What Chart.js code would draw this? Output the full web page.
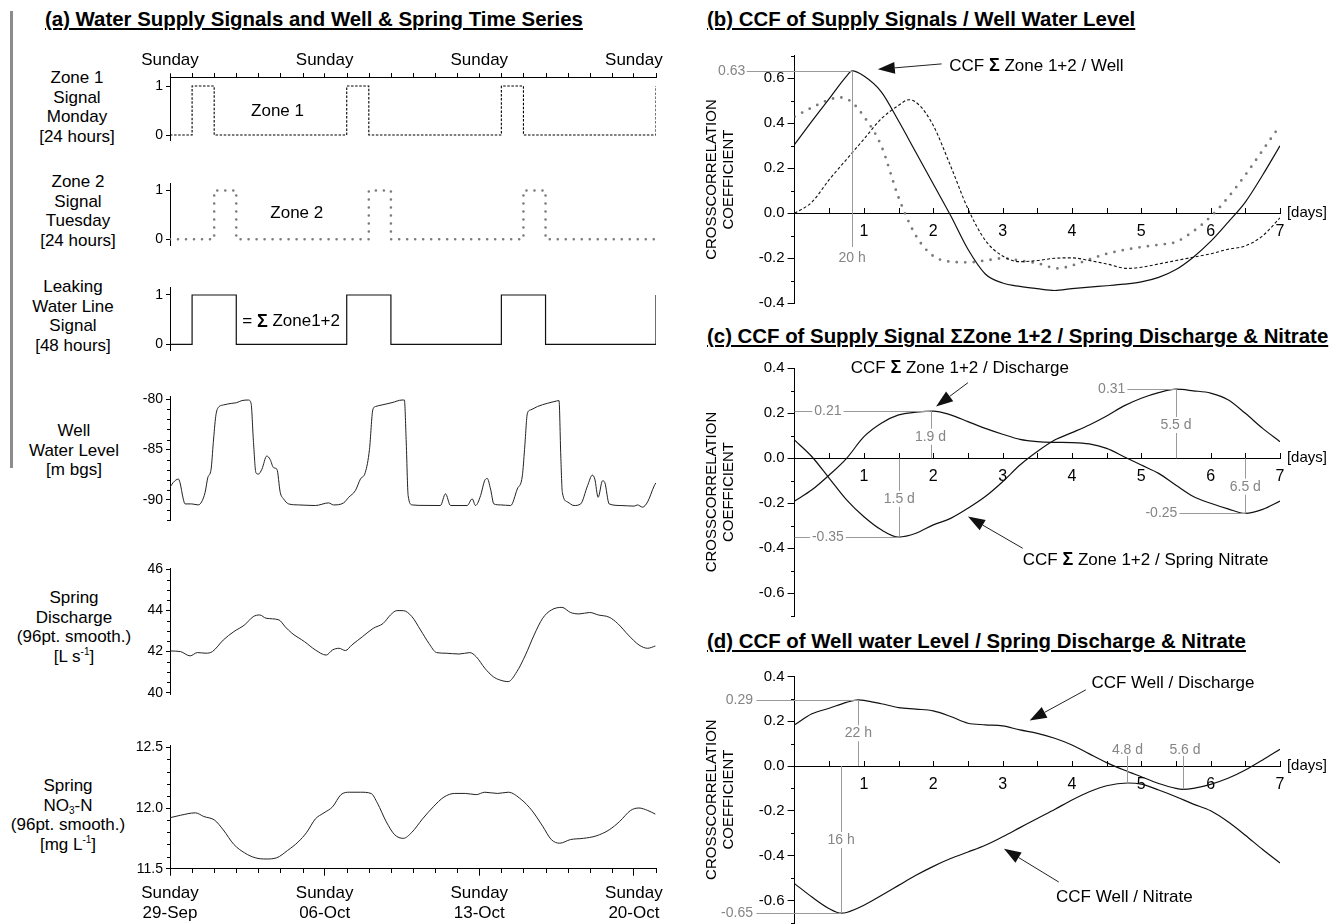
<!DOCTYPE html>
<html><head><meta charset="utf-8"><title>Water supply signals and CCF</title>
<script src="https://cdn.jsdelivr.net/npm/chart.js"></script>
<style>
html,body{margin:0;padding:0;background:#fff;}
body{position:relative;width:1343px;height:924px;overflow:hidden;font-family:'Liberation Sans',Arial,Helvetica,sans-serif;color:#000;}
canvas{position:absolute;}
.title{position:absolute;font-weight:bold;font-size:20.4px;line-height:24px;text-decoration:underline;text-decoration-thickness:1.5px;text-underline-offset:2px;white-space:nowrap;}
.lab{position:absolute;font-size:17px;line-height:19.5px;text-align:center;white-space:nowrap;transform:translate(-50%,-50%);}
.lab sup{font-size:10px;line-height:0;vertical-align:7px;}
.lab sub{font-size:10px;line-height:0;vertical-align:-3px;}
#bracket{position:absolute;left:10px;top:11px;width:2.5px;height:457px;background:#8c8c8c;}
</style></head><body>
<div id="bracket"></div>
<div class="title" style="left:45px;top:7px">(a) Water Supply Signals and Well &amp; Spring Time Series</div>
<div class="title" style="left:707px;top:7px">(b) CCF of Supply Signals / Well Water Level</div>
<div class="title" style="left:707px;top:324px">(c) CCF of Supply Signal &Sigma;Zone 1+2 / Spring Discharge &amp; Nitrate</div>
<div class="title" style="left:707px;top:629px">(d) CCF of Well water Level / Spring Discharge &amp; Nitrate</div>

<div class="lab" style="left:77px;top:107px">Zone 1<br>Signal<br>Monday<br>[24 hours]</div>
<div class="lab" style="left:78px;top:211px">Zone 2<br>Signal<br>Tuesday<br>[24 hours]</div>
<div class="lab" style="left:73px;top:316px">Leaking<br>Water Line<br>Signal<br>[48 hours]</div>
<div class="lab" style="left:74px;top:450px">Well<br>Water Level<br>[m bgs]</div>
<div class="lab" style="left:74px;top:627px">Spring<br>Discharge<br>(96pt. smooth.)<br>[L s<sup>-1</sup>]</div>
<div class="lab" style="left:68px;top:815px">Spring<br>NO<sub>3</sub>-N<br>(96pt. smooth.)<br>[mg L<sup>-1</sup>]</div>

<script>
// ================= DATA =================
// (a) time axis: days since Sunday 29-Sep
const weekTickDays = [0, 7, 14, 21];
const topTickLabels = ['Sunday', 'Sunday', 'Sunday', 'Sunday'];
const bottomTickLabels = [['Sunday', '29-Sep'], ['Sunday', '06-Oct'], ['Sunday', '13-Oct'], ['Sunday', '20-Oct']];

const zone1Days = [0, 1, 2, 8, 9, 15, 16, 22];
const zone1Signal = [0, 1, 0, 1, 0, 1, 0, 1];
const zone2Days = [0, 2, 3, 9, 10, 16, 17, 22];
const zone2Signal = [0, 1, 0, 1, 0, 1, 0, 0];
const leakDays = [0, 1, 3, 8, 10, 15, 17, 22];
const leakSignal = [0, 1, 0, 1, 0, 1, 0, 1];

const wellDays = [0,0.15,0.38,0.45,0.6,0.68,0.98,1.28,1.43,1.59,1.71,1.86,1.96,2.07,2.16,2.42,2.8,3.02,3.25,3.55,3.67,3.78,3.89,4.0,4.16,4.38,4.53,4.69,4.84,4.99,5.14,5.37,5.82,6.58,7.18,7.4,7.86,8.09,8.39,8.62,8.84,9.03,9.18,9.3,9.6,10.05,10.51,10.61,10.69,10.78,10.96,11.5,12.24,12.47,12.7,13.45,13.68,13.83,14.06,14.24,14.36,14.51,14.66,14.97,15.42,15.72,15.95,16.05,16.18,16.33,16.63,17.08,17.38,17.61,17.69,17.76,17.99,18.29,18.59,18.9,19.12,19.23,19.38,19.58,19.68,19.88,20.41,21.01,21.16,21.39,21.62,21.92,22.0];
const wellLevel = [-88.75,-88.26,-87.93,-88.26,-89.9,-90.4,-90.4,-90.5,-90.2,-89.25,-87.8,-86.95,-84.3,-81.7,-80.9,-80.56,-80.4,-80.33,-80.13,-80.07,-80.4,-84.3,-87.3,-87.44,-86.95,-85.64,-85.97,-86.8,-86.95,-89.25,-89.9,-90.4,-90.5,-90.56,-90.3,-90.5,-90.3,-89.74,-89.08,-87.93,-87.28,-84.98,-81.05,-80.72,-80.56,-80.33,-80.07,-80.07,-84.0,-89.57,-90.5,-90.55,-90.56,-89.4,-90.56,-90.56,-89.9,-90.56,-89.57,-88.1,-87.87,-88.92,-90.4,-90.5,-90.56,-88.92,-87.6,-84.98,-81.38,-81.05,-80.72,-80.4,-80.23,-80.13,-85.64,-89.25,-90.2,-90.56,-90.4,-88.6,-87.54,-87.93,-89.74,-88.1,-88.26,-90.4,-90.56,-90.62,-90.5,-90.72,-90.2,-88.6,-88.3];

const dischargeDays = [0,0.47,0.91,1.24,1.63,1.92,2.41,2.89,3.38,3.77,4.06,4.35,4.93,5.22,5.51,6.09,6.58,7.07,7.36,7.65,7.94,8.23,8.72,9.2,9.65,9.98,10.27,10.56,10.95,11.34,11.72,12.07,12.5,13.08,13.57,13.86,14.25,14.63,14.93,15.31,15.7,16.09,16.48,16.87,17.26,17.74,18.13,18.52,19.0,19.39,19.88,20.26,20.75,21.23,21.62,21.97];
const dischargeLs = [42.03,42.0,41.79,41.95,41.92,42.0,42.56,42.97,43.3,43.7,43.78,43.62,43.54,43.2,42.9,42.48,42.08,41.83,42.08,42.16,42.05,42.32,42.73,43.13,43.37,43.78,43.99,43.99,43.7,43.05,42.4,41.95,41.92,41.88,41.95,41.75,41.19,40.78,40.62,40.54,41.02,41.83,42.8,43.62,44.02,44.15,43.9,43.83,43.9,43.78,43.67,43.37,42.8,42.32,42.16,42.27];

const nitrateDays = [0,0.47,1.15,1.53,2.02,2.41,2.89,3.38,3.86,4.35,4.83,5.32,5.8,6.19,6.58,6.97,7.36,7.74,8.13,8.62,9.1,9.39,9.78,10.17,10.56,10.95,11.43,11.92,12.4,12.89,13.37,13.86,14.25,14.83,15.31,15.9,16.38,16.87,17.26,17.64,18.13,18.71,19.29,19.88,20.36,20.85,21.23,21.62,21.97];
const nitrateMgL = [11.92,11.94,11.96,11.93,11.90,11.82,11.70,11.63,11.59,11.58,11.59,11.65,11.72,11.80,11.91,11.96,12.01,12.11,12.13,12.13,12.12,12.04,11.89,11.78,11.75,11.80,11.91,12.01,12.09,12.12,12.12,12.11,12.13,12.12,12.13,12.07,11.98,11.85,11.74,11.71,11.74,11.75,11.77,11.82,11.89,11.98,12.0,11.98,11.95];

const signalTicks = [0, 1];
const wellTicks = [-90, -85, -80];
const dischargeTicks = [40, 42, 44, 46];
const nitrateTicks = [11.5, 12.0, 12.5];

// (b)-(d) lag axis in days
const lagTicks = [1, 2, 3, 4, 5, 6, 7];
const ccfTicksB = [-0.4, -0.2, 0, 0.2, 0.4, 0.6];
const ccfTicksCD = [-0.6, -0.4, -0.2, 0, 0.2, 0.4];
const lagDays = [0,0.25,0.5,0.75,1,1.25,1.5,1.75,2,2.25,2.5,2.75,3,3.25,3.5,3.75,4,4.25,4.5,4.75,5,5.25,5.5,5.75,6,6.25,6.5,6.75,7];

// (b)
const ccfLeakWellLag = [0,0.25,0.5,0.75,0.83,1,1.25,1.5,1.75,2,2.25,2.5,2.75,3,3.25,3.5,3.75,4,4.25,4.5,4.75,5,5.25,5.5,5.75,6,6.25,6.5,6.75,7];
const ccfLeakWell = [0.306,0.41,0.51,0.61,0.633,0.61,0.54,0.41,0.27,0.13,-0.01,-0.16,-0.27,-0.31,-0.325,-0.335,-0.343,-0.335,-0.328,-0.322,-0.315,-0.305,-0.285,-0.25,-0.195,-0.125,-0.04,0.05,0.17,0.30];
const ccfZone1WellLag = [0,0.25,0.5,0.75,1,1.25,1.5,1.65,1.8,2,2.25,2.5,2.75,3,3.25,3.5,3.75,4,4.25,4.5,4.8,5,5.25,5.5,5.75,6,6.25,6.5,6.75,7];
const ccfZone1Well = [0,0.05,0.15,0.24,0.33,0.42,0.48,0.505,0.48,0.39,0.21,0.02,-0.12,-0.19,-0.215,-0.21,-0.2,-0.198,-0.21,-0.225,-0.245,-0.24,-0.225,-0.21,-0.195,-0.18,-0.16,-0.145,-0.1,-0.02];
const ccfZone2WellLag = [0,0.25,0.5,0.65,0.8,1,1.25,1.5,1.75,2,2.25,2.5,2.75,3,3.25,3.5,3.8,4,4.25,4.5,4.75,5,5.25,5.5,5.75,6,6.25,6.5,6.75,7];
const ccfZone2Well = [0.43,0.47,0.505,0.515,0.5,0.43,0.3,0.07,-0.1,-0.19,-0.215,-0.218,-0.21,-0.2,-0.21,-0.222,-0.245,-0.232,-0.205,-0.18,-0.163,-0.15,-0.14,-0.127,-0.08,-0.015,0.07,0.17,0.28,0.39];

// (c)
const ccfLeakDischarge = [-0.19,-0.14,-0.074,0.0,0.096,0.156,0.193,0.205,0.21,0.193,0.163,0.133,0.107,0.084,0.074,0.071,0.07,0.064,0.044,0.007,-0.03,-0.067,-0.12,-0.17,-0.2,-0.225,-0.245,-0.227,-0.19];
const ccfLeakNitrate = [0.081,0.007,-0.089,-0.185,-0.26,-0.318,-0.35,-0.333,-0.296,-0.267,-0.222,-0.17,-0.104,-0.03,0.03,0.081,0.114,0.148,0.188,0.233,0.267,0.292,0.307,0.30,0.29,0.26,0.2,0.133,0.074];

// (d)
const ccfWellDischargeLag = [0,0.25,0.5,0.75,0.92,1,1.25,1.5,1.75,2,2.25,2.5,2.75,3,3.25,3.5,3.75,4,4.25,4.5,4.75,5,5.25,5.5,5.6,5.75,6,6.25,6.5,6.75,7];
const ccfWellDischarge = [0.184,0.233,0.258,0.284,0.295,0.293,0.278,0.261,0.254,0.246,0.221,0.191,0.184,0.179,0.161,0.146,0.124,0.094,0.054,0.015,-0.018,-0.048,-0.078,-0.1,-0.104,-0.1,-0.082,-0.055,-0.018,0.027,0.075];
const ccfWellNitrateLag = [0,0.25,0.5,0.67,0.75,1,1.25,1.5,1.75,2,2.25,2.5,2.75,3,3.25,3.5,3.75,4,4.25,4.5,4.8,5,5.25,5.5,5.75,6,6.25,6.5,6.75,7];
const ccfWellNitrate = [-0.525,-0.585,-0.637,-0.657,-0.654,-0.622,-0.578,-0.533,-0.488,-0.448,-0.413,-0.384,-0.354,-0.316,-0.275,-0.234,-0.194,-0.152,-0.115,-0.088,-0.076,-0.081,-0.107,-0.137,-0.17,-0.2,-0.249,-0.309,-0.373,-0.433];

// ================= HELPERS =================
const F = "'Liberation Sans', Arial, Helvetica, sans-serif";
Chart.defaults.font.family = F;
Chart.defaults.color = '#000';
Chart.defaults.animation = false;
Chart.defaults.events = [];
Chart.defaults.plugins.legend.display = false;
Chart.defaults.plugins.tooltip.enabled = false;
Chart.defaults.elements.point.radius = 0;

const pts = (xs, ys) => xs.map((x, i) => ({x: x, y: ys[i]}));
const near = (arr, v) => arr.some(m => Math.abs(m - v) < 1e-6);

function addCanvas(x, y, w, h) {
  const c = document.createElement('canvas');
  c.width = w; c.height = h;
  c.style.left = x + 'px'; c.style.top = y + 'px';
  c.style.width = w + 'px'; c.style.height = h + 'px';
  document.body.appendChild(c);
  return c;
}

function drawRich(ctx, parts, x, y, size, align) {
  ctx.textBaseline = 'middle'; ctx.textAlign = 'left'; ctx.fillStyle = '#000';
  const fonts = parts.map(p => (p[1] ? 'bold ' + (size + 1) : size) + 'px ' + F);
  let total = 0;
  const ws = parts.map((p, i) => { ctx.font = fonts[i]; const w = ctx.measureText(p[0]).width; total += w; return w; });
  let cx = align === 'center' ? x - total / 2 : x;
  parts.forEach((p, i) => { ctx.font = fonts[i]; ctx.fillText(p[0], cx, y); cx += ws[i]; });
}

function drawArrow(ctx, x1, y1, x2, y2) {
  const hl = 17, hw = 6;
  const a = Math.atan2(y2 - y1, x2 - x1);
  const bx = x2 - hl * Math.cos(a), by = y2 - hl * Math.sin(a);
  ctx.beginPath(); ctx.moveTo(x1, y1); ctx.lineTo(bx, by); ctx.stroke();
  ctx.beginPath(); ctx.moveTo(x2, y2);
  ctx.lineTo(bx + hw * Math.sin(a), by - hw * Math.cos(a));
  ctx.lineTo(bx - hw * Math.sin(a), by + hw * Math.cos(a));
  ctx.closePath(); ctx.fill();
}

function minorPlugin(spec) {
  return { id: 'minorTicks', afterDraw(chart) {
    const ctx = chart.ctx, ca = chart.chartArea;
    ctx.save(); ctx.strokeStyle = '#000'; ctx.lineWidth = 1; ctx.beginPath();
    if (spec.y) {
      const s = chart.scales.y, o = spec.y;
      const k0 = Math.ceil(s.min / o.step - 1e-6), k1 = Math.floor(s.max / o.step + 1e-6);
      const x = Math.round(ca.left);
      for (let k = k0; k <= k1; k++) {
        const v = k * o.step; if (near(o.skip || [], v)) continue;
        const y = Math.round(s.getPixelForValue(v)) + 0.5;
        ctx.moveTo(x - o.len, y); ctx.lineTo(x, y);
      }
    }
    if (spec.x) {
      const s = chart.scales.x, o = spec.x;
      let y0 = o.at === 'top' ? ca.top : o.at === 'bottom' ? ca.bottom : chart.scales.y.getPixelForValue(0);
      y0 = Math.round(y0);
      const k0 = Math.ceil((o.from !== undefined ? o.from : s.min) / o.step - 1e-6), k1 = Math.floor(s.max / o.step + 1e-6);
      for (let k = k0; k <= k1; k++) {
        const v = k * o.step; if (near(o.skip || [], v)) continue;
        const x = Math.round(s.getPixelForValue(v)) + 0.5;
        if (o.dir === 'up') { ctx.moveTo(x, y0); ctx.lineTo(x, y0 - o.len); }
        else { ctx.moveTo(x, y0); ctx.lineTo(x, y0 + o.len); }
      }
    }
    ctx.stroke(); ctx.restore();
  }};
}

function annotPlugin(spec) {
  return { id: 'annot', afterDraw(chart) {
    const ctx = chart.ctx;
    const X = v => chart.scales.x.getPixelForValue(v), Y = v => chart.scales.y.getPixelForValue(v);
    ctx.save();
    ctx.strokeStyle = '#9a9a9a'; ctx.lineWidth = 1;
    (spec.hlines || []).forEach(h => { const y = Math.round(Y(h.y)) + 0.5; ctx.beginPath(); ctx.moveTo(X(h.x0), y); ctx.lineTo(X(h.x1), y); ctx.stroke(); });
    (spec.vlines || []).forEach(v => { const x = Math.round(X(v.x)) + 0.5; ctx.beginPath(); ctx.moveTo(x, Y(v.y0)); ctx.lineTo(x, Y(v.y1)); ctx.stroke(); });
    ctx.font = '14px ' + F; ctx.textBaseline = 'middle'; ctx.textAlign = 'left';
    (spec.labels || []).forEach(l => {
      const w = ctx.measureText(l.t).width, x = X(l.x), y = Y(l.y);
      const x0 = l.a === 'right' ? x - w : (l.a === 'left' ? x : x - w / 2);
      if (l.bg) { ctx.fillStyle = '#fff'; ctx.fillRect(x0 - 2, y - 8, w + 4, 16); }
      ctx.fillStyle = '#858585'; ctx.fillText(l.t, x0, y);
    });
    (spec.texts || []).forEach(t => drawRich(ctx, t.parts, X(t.x), Y(t.y), t.size || 17, t.align));
    ctx.strokeStyle = '#222'; ctx.fillStyle = '#111'; ctx.lineWidth = 1;
    (spec.arrows || []).forEach(a => drawArrow(ctx, X(a.from[0]), Y(a.from[1]), X(a.to[0]), Y(a.to[1])));
    ctx.restore();
  }};
}

function yAxis(min, max, ticks, fmt, width, o) {
  o = o || {};
  return {
    type: 'linear', min: min, max: max, position: 'left',
    afterBuildTicks: s => { s.ticks = ticks.map(v => ({value: v})); },
    afterFit: s => { s.width = width; s.paddingTop = 0; s.paddingBottom = 0; },
    ticks: {autoSkip: false, font: {size: o.fs || 14}, padding: o.pad || 3, color: '#000', callback: v => fmt(v)},
    grid: {display: true, drawOnChartArea: false, drawTicks: true, tickLength: o.tl || 4, color: '#000'},
    border: {display: true, color: '#000', width: 1},
    title: o.title || {display: false}
  };
}

const TOP_AXIS_H = 37.3, BOTTOM_AXIS_H = 55.3;
function leftX(kind) {
  if (!kind) return {type: 'linear', min: 0, max: 22, display: false};
  return {
    type: 'linear', min: 0, max: 22, display: true, position: kind,
    afterBuildTicks: s => { s.ticks = weekTickDays.map(v => ({value: v})); },
    afterFit: s => { s.height = kind === 'top' ? TOP_AXIS_H : BOTTOM_AXIS_H; s.paddingLeft = 0; s.paddingRight = 0; },
    ticks: {autoSkip: false, maxRotation: 0, minRotation: 0, font: {size: 17}, padding: kind === 'top' ? 2.4 : 7.1, color: '#000',
      callback: (v, i) => kind === 'top' ? topTickLabels[i] : bottomTickLabels[i]},
    grid: {display: true, drawOnChartArea: false, drawTicks: true, tickLength: kind === 'top' ? 4 : 7, color: '#000'},
    border: {display: true, color: '#000', width: 1}
  };
}

// Left column panel
function leftPanel(o) {
  const xH = o.xAxis === 'top' ? TOP_AXIS_H : (o.xAxis === 'bottom' ? BOTTOM_AXIS_H : 0);
  const topEdge = o.xAxis === 'top' ? o.axisTop - xH : o.axisTop - 10;
  const botEdge = o.xAxis === 'bottom' ? o.axisBottom + xH : o.axisBottom + 10;
  const cTop = Math.floor(topEdge), cH = Math.ceil(botEdge) - cTop;
  const padTop = (o.xAxis === 'top' ? o.axisTop - xH : o.axisTop) - cTop;
  const padBottom = cTop + cH - (o.xAxis === 'bottom' ? o.axisBottom + xH : o.axisBottom);
  const canvas = addCanvas(95, cTop, 585, cH);
  const plugins = [];
  if (o.minor) plugins.push(minorPlugin(o.minor));
  if (o.annot) plugins.push(annotPlugin(o.annot));
  return new Chart(canvas, {
    type: 'line',
    data: {datasets: o.datasets},
    options: {
      responsive: false, devicePixelRatio: 1,
      layout: {padding: {top: padTop, bottom: padBottom, left: 0, right: 24}},
      scales: {x: leftX(o.xAxis), y: yAxis(o.min, o.max, o.ticks, o.fmt, 75)}
    },
    plugins: plugins
  });
}

// Right column panel
function rightPanel(o) {
  const topEdge = o.axisTop - 10, botEdge = o.axisBottom + 10;
  const cTop = Math.floor(topEdge), cH = Math.ceil(botEdge) - cTop;
  const canvas = addCanvas(695, cTop, 648, cH);
  return new Chart(canvas, {
    type: 'line',
    data: {datasets: o.datasets},
    options: {
      responsive: false, devicePixelRatio: 1,
      layout: {padding: {top: o.axisTop - cTop, bottom: cTop + cH - o.axisBottom, left: 0, right: 63}},
      scales: {
        x: {
          type: 'linear', min: 0, max: 7, position: {y: 0},
          afterBuildTicks: s => { s.ticks = lagTicks.map(v => ({value: v})); },
          afterFit: s => { s.paddingLeft = 0; s.paddingRight = 0; },
          ticks: {autoSkip: false, maxRotation: 0, minRotation: 0, font: {size: 16}, padding: 8.8, color: '#000', callback: v => String(v)},
          grid: {display: true, drawOnChartArea: false, drawTicks: false, color: '#000'},
          border: {display: true, color: '#000', width: 1}
        },
        y: yAxis(o.min, o.max, o.ticks, v => v.toFixed(1), 99.6, {fs: 15, pad: 3, tl: 7,
          title: {display: true, text: ['CROSSCORRELATION', 'COEFFICIENT'], font: {size: 15, lineHeight: 1.12}, padding: {top: 8.6, bottom: 0}, color: '#000'}})
      }
    },
    plugins: [
      minorPlugin({y: {step: 0.1, len: 4, skip: o.ticks}, x: {step: 0.5, len: 5, dir: 'up', at: 'zero', from: 0.5}}),
      annotPlugin(o.annot)
    ]
  });
}

const solid = (data) => ({data: data, borderColor: '#111', borderWidth: 1.2, cubicInterpolationMode: 'monotone'});
const sigmaParts = (rest) => [['CCF ', 0], ['\u03A3', 1], [rest, 0]];
const daysLabel = {parts: [['[days]', 0]], x: 7.1, y: 0, size: 15};

// ================= (a) LEFT PANELS =================
leftPanel({
  axisTop: 77.3, axisBottom: 140, min: -0.102, max: 1.178, ticks: signalTicks, fmt: v => String(v), xAxis: 'top',
  datasets: [{data: pts(zone1Days, zone1Signal), stepped: true, borderColor: '#000', borderWidth: 1.1, borderDash: [2.5, 1.6]}],
  minor: {x: {step: 1, len: 4, dir: 'up', at: 'top', skip: weekTickDays}},
  annot: {texts: [{parts: [['Zone 1', 0]], x: 3.67, y: 0.48}]}
});
leftPanel({
  axisTop: 183, axisBottom: 245, min: -0.118, max: 1.155, ticks: signalTicks, fmt: v => String(v),
  datasets: [{data: pts(zone2Days, zone2Signal), stepped: true, borderColor: '#7a7a7a', borderWidth: 2.6, borderDash: [0, 8], borderCapStyle: 'round'}],
  annot: {texts: [{parts: [['Zone 2', 0]], x: 4.54, y: 0.54}]}
});
leftPanel({
  axisTop: 287, axisBottom: 350, min: -0.116, max: 1.162, ticks: signalTicks, fmt: v => String(v),
  datasets: [{data: pts(leakDays, leakSignal), stepped: true, borderColor: '#111', borderWidth: 1.2}],
  annot: {texts: [{parts: [['= ', 0], ['\u03A3', 1], [' Zone1+2', 0]], x: 3.27, y: 0.46}]}
});
leftPanel({
  axisTop: 396.7, axisBottom: 520, min: -92, max: -79.74, ticks: wellTicks, fmt: v => String(v),
  datasets: [{data: pts(wellDays, wellLevel), borderColor: '#222', borderWidth: 1, cubicInterpolationMode: 'monotone'}],
  minor: {y: {step: 1, len: 3, skip: wellTicks}}
});
leftPanel({
  axisTop: 568, axisBottom: 694, min: 39.937, max: 46.063, ticks: dischargeTicks, fmt: v => String(v),
  datasets: [{data: pts(dischargeDays, dischargeLs), borderColor: '#222', borderWidth: 1, cubicInterpolationMode: 'monotone'}],
  minor: {y: {step: 0.5, len: 3, skip: dischargeTicks}}
});
leftPanel({
  axisTop: 745, axisBottom: 868.7, min: 11.5, max: 12.519, ticks: nitrateTicks, fmt: v => v.toFixed(1), xAxis: 'bottom',
  datasets: [{data: pts(nitrateDays, nitrateMgL), borderColor: '#222', borderWidth: 1, cubicInterpolationMode: 'monotone'}],
  minor: {y: {step: 0.1, len: 3, skip: nitrateTicks}, x: {step: 1, len: 4, dir: 'down', at: 'bottom', skip: weekTickDays}}
});

// ================= (b) =================
rightPanel({
  axisTop: 55.8, axisBottom: 303.3, min: -0.4, max: 0.7, ticks: ccfTicksB,
  datasets: [
    solid(pts(ccfLeakWellLag, ccfLeakWell)),
    {data: pts(ccfZone1WellLag, ccfZone1Well), borderColor: '#111', borderWidth: 1.1, borderDash: [3, 2.2], cubicInterpolationMode: 'monotone'},
    {data: pts(ccfZone2WellLag, ccfZone2Well), borderColor: '#7a7a7a', borderWidth: 2.8, borderDash: [0, 8.5], borderCapStyle: 'round', cubicInterpolationMode: 'monotone'}
  ],
  annot: {
    hlines: [{y: 0.633, x0: -0.69, x1: 0.83}],
    vlines: [{x: 0.83, y0: 0.633, y1: -0.15}],
    labels: [{t: '0.63', x: -0.71, y: 0.633, a: 'right'}, {t: '20 h', x: 0.83, y: -0.2, a: 'center'}],
    texts: [{parts: sigmaParts(' Zone 1+2 / Well'), x: 2.23, y: 0.655}, daysLabel],
    arrows: [{from: [2.12, 0.664], to: [1.2, 0.64]}]
  }
});

// ================= (c) =================
rightPanel({
  axisTop: 368.3, axisBottom: 615.8, min: -0.7, max: 0.4, ticks: ccfTicksCD,
  datasets: [solid(pts(lagDays, ccfLeakDischarge)), solid(pts(lagDays, ccfLeakNitrate))],
  annot: {
    hlines: [{y: 0.21, x0: 0, x1: 1.96}, {y: -0.35, x0: 0, x1: 1.51}, {y: 0.307, x0: 4.8, x1: 5.5}, {y: -0.245, x0: 5.55, x1: 6.5}],
    vlines: [{x: 1.96, y0: 0.21, y1: 0}, {x: 1.51, y0: -0.35, y1: 0}, {x: 5.5, y0: 0.307, y1: 0}, {x: 6.5, y0: -0.245, y1: 0}],
    labels: [
      {t: '0.21', x: 0.48, y: 0.21, a: 'center', bg: 1}, {t: '-0.35', x: 0.48, y: -0.35, a: 'center', bg: 1},
      {t: '1.9 d', x: 1.96, y: 0.096, a: 'center', bg: 1}, {t: '1.5 d', x: 1.51, y: -0.18, a: 'center', bg: 1},
      {t: '5.5 d', x: 5.5, y: 0.148, a: 'center', bg: 1}, {t: '6.5 d', x: 6.5, y: -0.126, a: 'center', bg: 1},
      {t: '0.31', x: 4.77, y: 0.307, a: 'right'}, {t: '-0.25', x: 5.52, y: -0.245, a: 'right'}
    ],
    texts: [
      {parts: sigmaParts(' Zone 1+2 / Discharge'), x: 0.81, y: 0.40},
      {parts: sigmaParts(' Zone 1+2 / Spring Nitrate'), x: 3.29, y: -0.452},
      daysLabel
    ],
    arrows: [{from: [2.5, 0.336], to: [2.04, 0.23]}, {from: [3.29, -0.4], to: [2.5, -0.259]}]
  }
});

// ================= (d) =================
rightPanel({
  axisTop: 676.4, axisBottom: 922.8, min: -0.7, max: 0.4, ticks: ccfTicksCD,
  datasets: [solid(pts(ccfWellDischargeLag, ccfWellDischarge)), solid(pts(ccfWellNitrateLag, ccfWellNitrate))],
  annot: {
    hlines: [{y: 0.295, x0: -0.55, x1: 0.92}, {y: -0.657, x0: -0.55, x1: 0.67}],
    vlines: [{x: 0.92, y0: 0.295, y1: 0}, {x: 0.67, y0: -0.657, y1: 0}, {x: 4.8, y0: 0.045, y1: -0.076}, {x: 5.6, y0: 0.045, y1: -0.104}],
    labels: [
      {t: '0.29', x: -0.6, y: 0.295, a: 'right'}, {t: '-0.65', x: -0.6, y: -0.657, a: 'right'},
      {t: '22 h', x: 0.92, y: 0.146, a: 'center', bg: 1}, {t: '16 h', x: 0.67, y: -0.33, a: 'center', bg: 1},
      {t: '4.8 d', x: 4.8, y: 0.072, a: 'center'}, {t: '5.6 d', x: 5.63, y: 0.072, a: 'center'}
    ],
    texts: [
      {parts: [['CCF Well / Discharge', 0]], x: 4.28, y: 0.37},
      {parts: [['CCF Well / Nitrate', 0]], x: 3.77, y: -0.585},
      daysLabel
    ],
    arrows: [{from: [4.2, 0.34], to: [3.39, 0.203]}, {from: [3.81, -0.518], to: [3.02, -0.369]}]
  }
});
</script>
</body></html>
